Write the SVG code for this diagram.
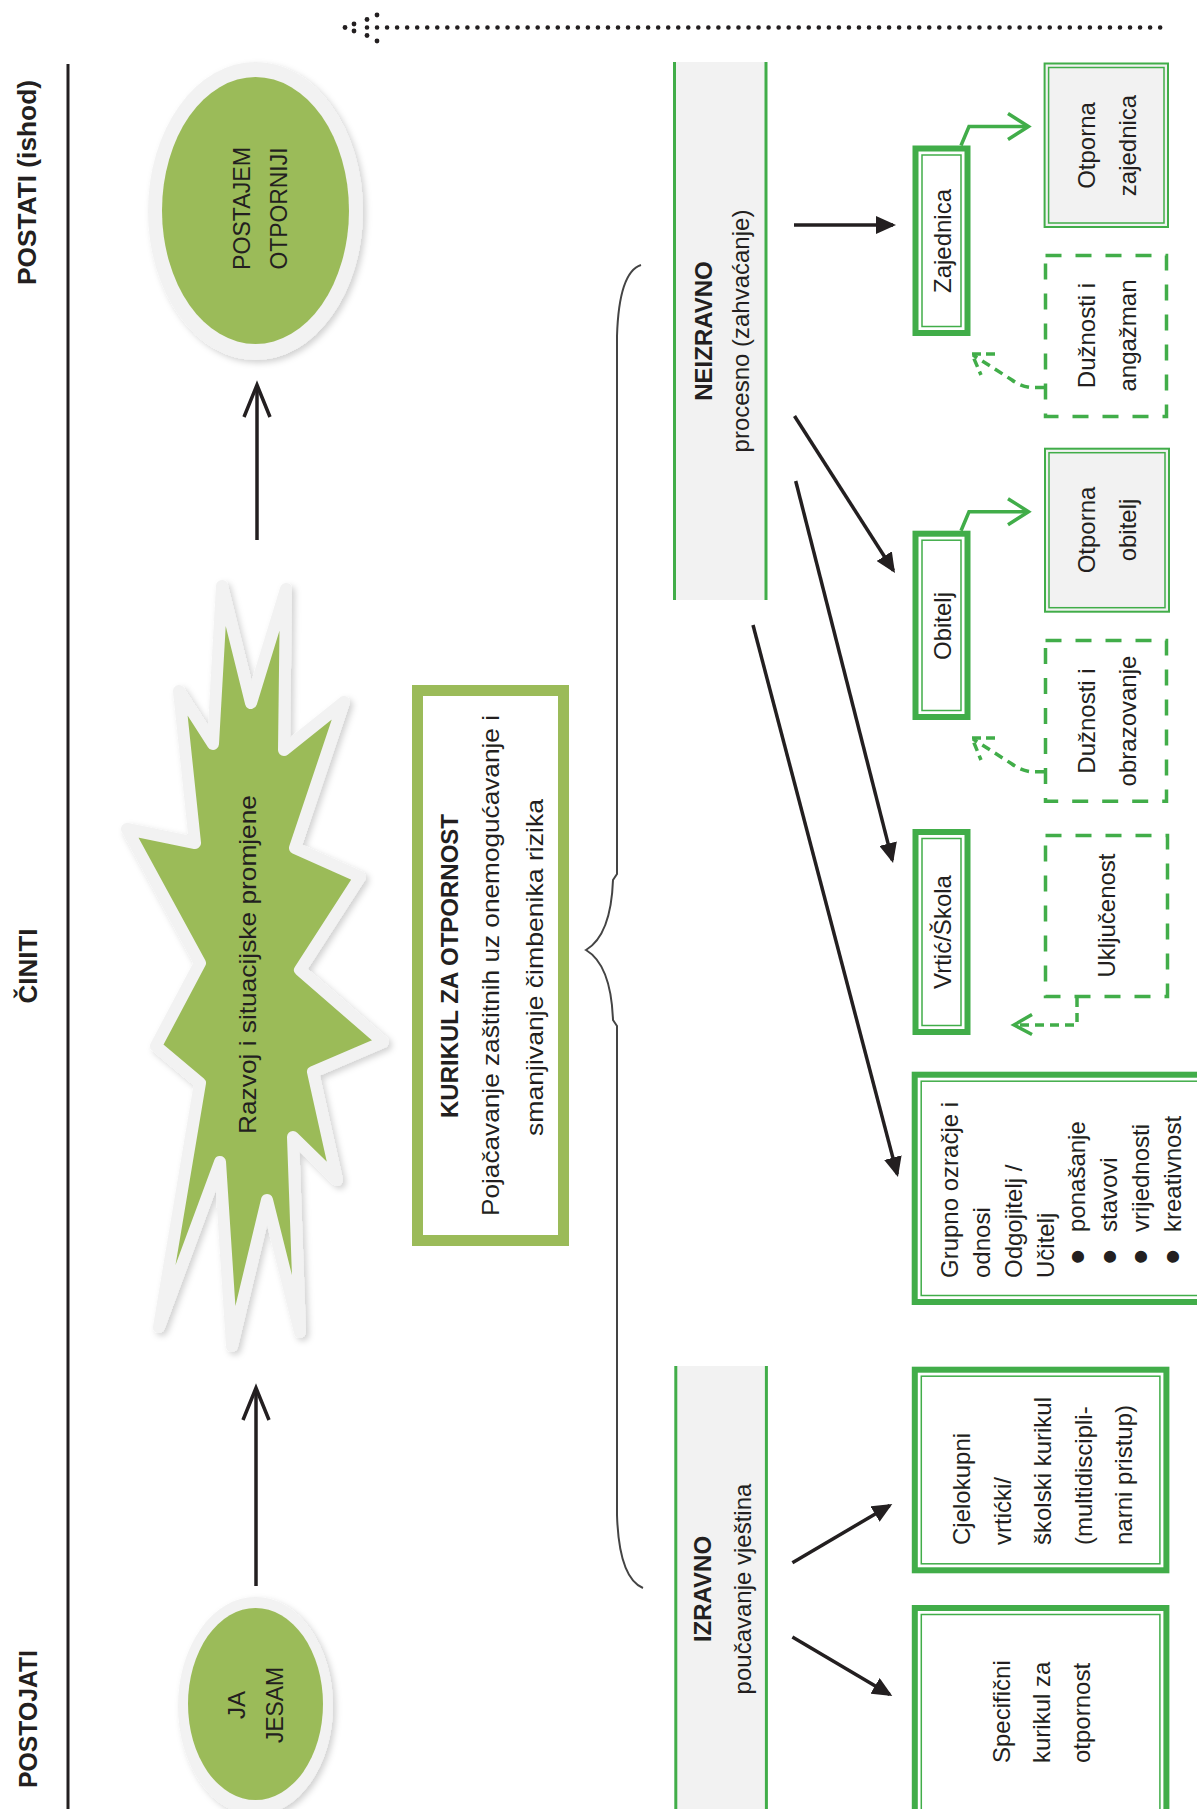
<svg xmlns="http://www.w3.org/2000/svg" width="1197" height="1809" viewBox="0 0 1197 1809">
<style>
.t{font-family:"Liberation Sans",Arial,sans-serif;font-size:24px;fill:#231f20}
.b{font-weight:bold}
.bul{font-size:44px}
.h{font-family:"Liberation Sans",Arial,sans-serif;font-size:26px;font-weight:bold;fill:#231f20}
.thick{fill:#fff;stroke:#41ad49;stroke-width:6}
.thin{fill:none;stroke:#41ad49;stroke-width:1.5}
.dash{fill:#fff;stroke:#41ad49;stroke-width:3.5;stroke-dasharray:16 14}
.gbox{fill:#f2f2f2;stroke:#41ad49;stroke-width:2}
.blk{stroke:#231f20;stroke-width:3.5;fill:none}
.grn{stroke:#41ad49;stroke-width:3.5;fill:none}
.gdash{stroke:#41ad49;stroke-width:3.5;fill:none;stroke-dasharray:9 6}
.panel{fill:#f2f2f2}
.pline{stroke:#41ad49;stroke-width:3}
</style>
<defs>
<filter id="sh" x="-20%" y="-20%" width="140%" height="140%">
<feDropShadow dx="3" dy="3" stdDeviation="3" flood-color="#000" flood-opacity="0.18"/>
</filter>
<marker id="ah" viewBox="0 0 20 18" refX="17" refY="9" markerWidth="20" markerHeight="18" markerUnits="userSpaceOnUse" orient="auto">
<path d="M0,0 L20,9 L0,18 z" fill="#231f20"/>
</marker>
</defs>
<rect width="1197" height="1809" fill="#fff"/>

<g id="headers">
<line x1="68" y1="64" x2="68" y2="1809" stroke="#231f20" stroke-width="3"/>
<text class="h" transform="translate(36 182.5) rotate(-90)" text-anchor="middle" textLength="205" lengthAdjust="spacingAndGlyphs">POSTATI (ishod)</text>
<text class="h" transform="translate(37 966) rotate(-90)" text-anchor="middle">ČINITI</text>
<text class="h" transform="translate(37 1719) rotate(-90)" text-anchor="middle" textLength="138" lengthAdjust="spacingAndGlyphs">POSTOJATI</text>
</g>

<g id="timeline" fill="#231f20">
<line x1="367" y1="27.5" x2="1170" y2="27.5" stroke="#231f20" stroke-width="4.6" stroke-linecap="round" stroke-dasharray="0 10.04"/>
<circle cx="345" cy="27.5" r="2.4"/>
<circle cx="354" cy="24" r="2.4"/>
<circle cx="354" cy="31" r="2.4"/>
<circle cx="367" cy="19.5" r="2.4"/>
<circle cx="367" cy="35.5" r="2.4"/>
<circle cx="377" cy="15" r="2.4"/>
<circle cx="377" cy="41" r="2.4"/>
</g>

<g id="node-postajem">
<ellipse cx="255.5" cy="211" rx="107.5" ry="149" fill="#f2f2f2" filter="url(#sh)"/>
<ellipse cx="255.5" cy="210.5" rx="93.5" ry="133.5" fill="#9bbb59"/>
<text class="t" transform="translate(250 208.5) rotate(-90)" text-anchor="middle" font-size="26" textLength="123" lengthAdjust="spacingAndGlyphs">POSTAJEM</text>
<text class="t" transform="translate(287 208.5) rotate(-90)" text-anchor="middle" font-size="26" textLength="122" lengthAdjust="spacingAndGlyphs">OTPORNIJI</text>
</g>

<g id="node-jajesam">
<ellipse cx="255.5" cy="1706" rx="77.5" ry="109" fill="#f2f2f2" filter="url(#sh)"/>
<ellipse cx="255.5" cy="1704" rx="67.5" ry="96" fill="#9bbb59"/>
<text class="t" transform="translate(245 1705) rotate(-90)" text-anchor="middle" font-size="26">JA</text>
<text class="t" transform="translate(283 1705) rotate(-90)" text-anchor="middle" font-size="26" textLength="76" lengthAdjust="spacingAndGlyphs">JESAM</text>
</g>

<g id="node-star">
<polygon points="222,586 251,703 286,589 284,750 344,702 295,848 360,877 300,970 383,1042 313,1072 337,1180 293,1137 300,1332 267,1200 232,1346 220,1162 159,1327 200,1083 156,1046 200,963 127,829 195,843 179,691 213,744" fill="#9bbb59" stroke="#f2f2f2" stroke-width="12" stroke-linejoin="round" filter="url(#sh)"/>
<text class="t" transform="translate(256 964.5) rotate(-90)" text-anchor="middle" textLength="339" lengthAdjust="spacingAndGlyphs">Razvoj i situacijske promjene</text>
</g>

<g id="node-kurikul">
<rect x="417.5" y="690.5" width="146" height="550" fill="#fff" stroke="#9bbb59" stroke-width="11"/>
<text class="t b" transform="translate(458 966) rotate(-90)" text-anchor="middle" textLength="304" lengthAdjust="spacingAndGlyphs">KURIKUL ZA OTPORNOST</text>
<text class="t" transform="translate(499 965.5) rotate(-90)" text-anchor="middle" textLength="501" lengthAdjust="spacingAndGlyphs">Pojačavanje zaštitnih uz onemogućavanje i</text>
<text class="t" transform="translate(543 967.5) rotate(-90)" text-anchor="middle" textLength="337" lengthAdjust="spacingAndGlyphs">smanjivanje čimbenika rizika</text>
</g>

<g id="brace">
<path d="M641 265 Q619 272 617 336 L617 874 L613 880 Q611 935 586 950 Q611 965 613 1020 L617 1026 L617 1515 Q619 1578 643 1588" fill="none" stroke="#444" stroke-width="2"/>
</g>

<g id="node-neizravno">
<rect class="panel" x="674.5" y="62" width="91.5" height="538"/>
<line class="pline" x1="674.5" y1="62" x2="674.5" y2="600"/>
<line class="pline" x1="766" y1="62" x2="766" y2="600"/>
<text class="t b" transform="translate(712 331) rotate(-90)" text-anchor="middle" font-size="22">NEIZRAVNO</text>
<text class="t" transform="translate(749 331) rotate(-90)" text-anchor="middle">procesno (zahvaćanje)</text>
</g>

<g id="node-izravno">
<rect class="panel" x="675.8" y="1366" width="90.6" height="450"/>
<line class="pline" x1="675.8" y1="1366" x2="675.8" y2="1816"/>
<line class="pline" x1="766.4" y1="1366" x2="766.4" y2="1816"/>
<text class="t b" transform="translate(711 1589) rotate(-90)" text-anchor="middle" font-size="22">IZRAVNO</text>
<text class="t" transform="translate(751 1589) rotate(-90)" text-anchor="middle">poučavanje vještina</text>
</g>

<g id="node-zajednica">
<rect class="thick" x="915.5" y="148.5" width="52" height="184.5"/>
<rect class="thin" x="922" y="155" width="39" height="171.5"/>
<text class="t" transform="translate(951 241) rotate(-90)" text-anchor="middle">Zajednica</text>
</g>

<g id="node-obitelj">
<rect class="thick" x="915.5" y="533.7" width="52" height="183.3"/>
<rect class="thin" x="922" y="540.2" width="39" height="170.3"/>
<text class="t" transform="translate(951 626) rotate(-90)" text-anchor="middle">Obitelj</text>
</g>

<g id="node-vrtic">
<rect class="thick" x="915.5" y="832" width="52" height="200"/>
<rect class="thin" x="922" y="838.5" width="39" height="187"/>
<text class="t" transform="translate(951 932) rotate(-90)" text-anchor="middle">Vrtić/Škola</text>
</g>

<g id="node-grupno">
<rect class="thick" x="914.7" y="1074.7" width="300" height="227.3"/>
<rect class="thin" x="921.2" y="1081.2" width="300" height="214.3"/>
<text class="t" transform="translate(958 1278) rotate(-90)">Grupno ozračje i</text>
<text class="t" transform="translate(990 1278) rotate(-90)">odnosi</text>
<text class="t" transform="translate(1022 1278) rotate(-90)">Odgojitelj /</text>
<text class="t" transform="translate(1054 1278) rotate(-90)">Učitelj</text>
<text class="t bul" transform="translate(1092.5 1264.4) rotate(-90)">•</text>
<text class="t" transform="translate(1085 1232) rotate(-90)">ponašanje</text>
<text class="t bul" transform="translate(1124.5 1264.4) rotate(-90)">•</text>
<text class="t" transform="translate(1117 1232) rotate(-90)">stavovi</text>
<text class="t bul" transform="translate(1156 1264.4) rotate(-90)">•</text>
<text class="t" transform="translate(1149 1232) rotate(-90)">vrijednosti</text>
<text class="t bul" transform="translate(1187.5 1264.4) rotate(-90)">•</text>
<text class="t" transform="translate(1181 1232) rotate(-90)">kreativnost</text>
</g>

<g id="node-cjelokupni">
<rect class="thick" x="914.8" y="1369.7" width="251.6" height="200.6"/>
<rect class="thin" x="921.3" y="1376.2" width="238.6" height="187.6"/>
<text class="t" transform="translate(970 1545) rotate(-90)">Cjelokupni</text>
<text class="t" transform="translate(1010.5 1545) rotate(-90)">vrtićki/</text>
<text class="t" transform="translate(1051 1545) rotate(-90)">školski kurikul</text>
<text class="t" transform="translate(1091.5 1545) rotate(-90)">(multidiscipli-</text>
<text class="t" transform="translate(1132 1545) rotate(-90)">narni pristup)</text>
</g>

<g id="node-specificni">
<rect class="thick" x="914.8" y="1608" width="251.6" height="210"/>
<rect class="thin" x="921.3" y="1614.5" width="238.6" height="210"/>
<text class="t" transform="translate(1010 1763) rotate(-90)">Specifični</text>
<text class="t" transform="translate(1050 1763) rotate(-90)">kurikul za</text>
<text class="t" transform="translate(1090 1763) rotate(-90)">otpornost</text>
</g>

<g id="node-otporna-zajednica">
<rect class="gbox" x="1044.6" y="63.5" width="123.4" height="163.5"/>
<rect class="thin" x="1048.6" y="67.5" width="115.4" height="155.5"/>
<text class="t" transform="translate(1095 145.5) rotate(-90)" text-anchor="middle">Otporna</text>
<text class="t" transform="translate(1136 145.5) rotate(-90)" text-anchor="middle">zajednica</text>
</g>

<g id="node-otporna-obitelj">
<rect class="gbox" x="1045" y="448.7" width="124" height="163"/>
<rect class="thin" x="1049" y="452.7" width="116" height="155"/>
<text class="t" transform="translate(1095 530) rotate(-90)" text-anchor="middle">Otporna</text>
<text class="t" transform="translate(1136 530) rotate(-90)" text-anchor="middle">obitelj</text>
</g>

<g id="node-duznosti-angazman">
<rect class="dash" x="1045.5" y="255.5" width="121" height="161"/>
<text class="t" transform="translate(1095 335.5) rotate(-90)" text-anchor="middle">Dužnosti i</text>
<text class="t" transform="translate(1136 335.5) rotate(-90)" text-anchor="middle">angažman</text>
</g>

<g id="node-duznosti-obrazovanje">
<rect class="dash" x="1045.5" y="640.5" width="121" height="160.7"/>
<text class="t" transform="translate(1095 721) rotate(-90)" text-anchor="middle">Dužnosti i</text>
<text class="t" transform="translate(1136 721) rotate(-90)" text-anchor="middle">obrazovanje</text>
</g>

<g id="node-ukljucenost">
<rect class="dash" x="1045.5" y="835.5" width="122" height="161"/>
<text class="t" transform="translate(1115 915.5) rotate(-90)" text-anchor="middle">Uključenost</text>
</g>

<g id="connectors">
<line class="blk" x1="257" y1="540" x2="257" y2="386"/>
<path class="blk" d="M244 417 L257 385 L270 417"/>
<line class="blk" x1="256" y1="1586" x2="256" y2="1390"/>
<path class="blk" d="M243 1420 L256 1388 L269 1420"/>
<line class="blk" x1="794" y1="225" x2="893" y2="225" marker-end="url(#ah)"/>
<line class="blk" x1="794.5" y1="416" x2="893.4" y2="570.5" marker-end="url(#ah)"/>
<line class="blk" x1="795.7" y1="481" x2="892.3" y2="860.1" marker-end="url(#ah)"/>
<line class="blk" x1="753" y1="625" x2="897.2" y2="1174.1" marker-end="url(#ah)"/>
<line class="blk" x1="792.4" y1="1562.7" x2="889.7" y2="1505.5" marker-end="url(#ah)"/>
<line class="blk" x1="792.4" y1="1637" x2="889.7" y2="1694.5" marker-end="url(#ah)"/>
<path class="grn" d="M961 145.5 L969 126.5 L1027 126.5"/>
<path class="grn" d="M1008 113.5 L1028.5 126.5 L1008 139.5"/>
<path class="grn" d="M961 530.7 L969 511.7 L1027 511.7"/>
<path class="grn" d="M1008 498.7 L1028.5 511.7 L1008 524.7"/>
<path class="gdash" d="M1044 387.5 L1030 387.5 Q1020 386 1012 380 L973 355"/>
<path class="gdash" d="M995 354 L972 354 L981 375" style="stroke-dasharray:9 5"/>
<path class="gdash" d="M1044 771.7 L1030 771.7 Q1020 770 1012 764 L973 739"/>
<path class="gdash" d="M995 738 L972 738 L981 760" style="stroke-dasharray:9 5"/>
<path class="gdash" d="M1077 998 L1077 1025 L1015 1025"/>
<path class="grn" d="M1032 1014.5 L1014 1025 L1032 1034.5"/>
</g>
</svg>
